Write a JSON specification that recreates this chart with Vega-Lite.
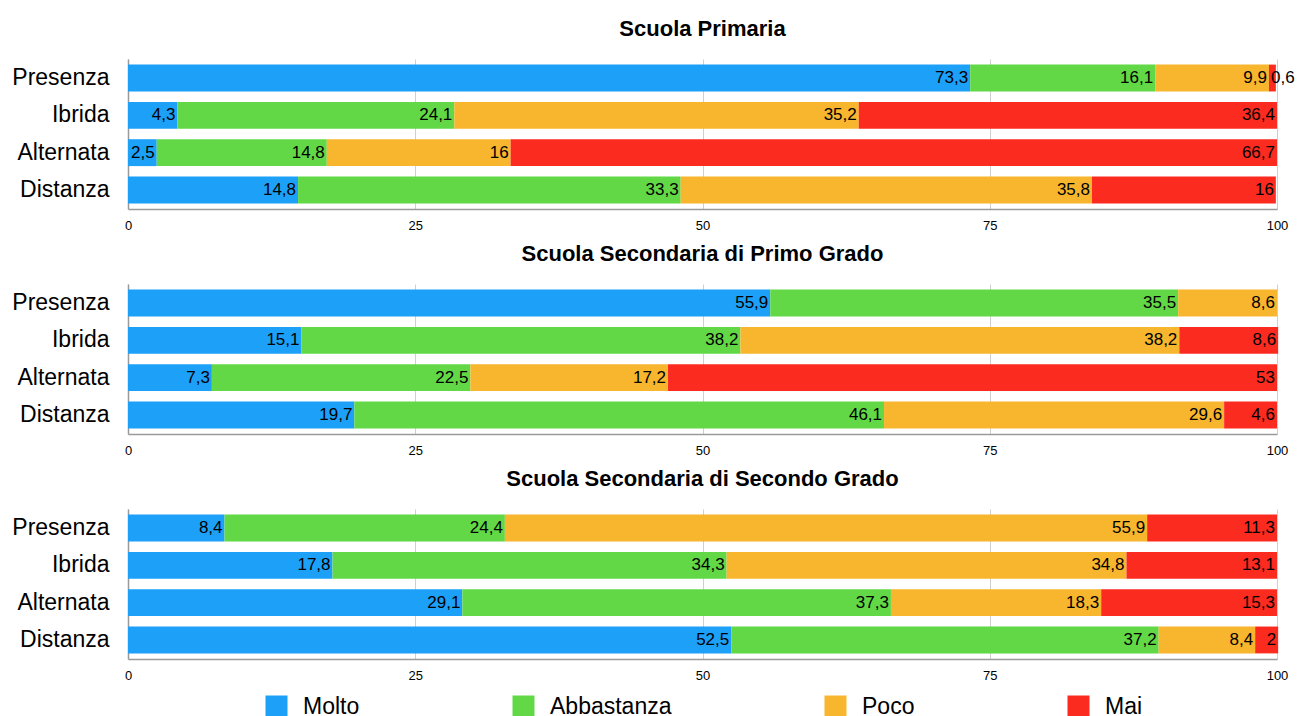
{
  "$schema": "https://vega.github.io/schema/vega-lite/v6.json",
  "padding": {"left": 11, "top": 18, "right": 2, "bottom": 0},
  "background": "white",
  "datasets": {
    "survey": [
      {"school": "Scuola Primaria", "mode": "Presenza", "cat": "Molto", "ord": 1, "value": 73.3},
      {"school": "Scuola Primaria", "mode": "Presenza", "cat": "Abbastanza", "ord": 2, "value": 16.1},
      {"school": "Scuola Primaria", "mode": "Presenza", "cat": "Poco", "ord": 3, "value": 9.9},
      {"school": "Scuola Primaria", "mode": "Presenza", "cat": "Mai", "ord": 4, "value": 0.6},
      {"school": "Scuola Primaria", "mode": "Ibrida", "cat": "Molto", "ord": 1, "value": 4.3},
      {"school": "Scuola Primaria", "mode": "Ibrida", "cat": "Abbastanza", "ord": 2, "value": 24.1},
      {"school": "Scuola Primaria", "mode": "Ibrida", "cat": "Poco", "ord": 3, "value": 35.2},
      {"school": "Scuola Primaria", "mode": "Ibrida", "cat": "Mai", "ord": 4, "value": 36.4},
      {"school": "Scuola Primaria", "mode": "Alternata", "cat": "Molto", "ord": 1, "value": 2.5},
      {"school": "Scuola Primaria", "mode": "Alternata", "cat": "Abbastanza", "ord": 2, "value": 14.8},
      {"school": "Scuola Primaria", "mode": "Alternata", "cat": "Poco", "ord": 3, "value": 16},
      {"school": "Scuola Primaria", "mode": "Alternata", "cat": "Mai", "ord": 4, "value": 66.7},
      {"school": "Scuola Primaria", "mode": "Distanza", "cat": "Molto", "ord": 1, "value": 14.8},
      {"school": "Scuola Primaria", "mode": "Distanza", "cat": "Abbastanza", "ord": 2, "value": 33.3},
      {"school": "Scuola Primaria", "mode": "Distanza", "cat": "Poco", "ord": 3, "value": 35.8},
      {"school": "Scuola Primaria", "mode": "Distanza", "cat": "Mai", "ord": 4, "value": 16},

      {"school": "Primo Grado", "mode": "Presenza", "cat": "Molto", "ord": 1, "value": 55.9},
      {"school": "Primo Grado", "mode": "Presenza", "cat": "Abbastanza", "ord": 2, "value": 35.5},
      {"school": "Primo Grado", "mode": "Presenza", "cat": "Poco", "ord": 3, "value": 8.6},
      {"school": "Primo Grado", "mode": "Ibrida", "cat": "Molto", "ord": 1, "value": 15.1},
      {"school": "Primo Grado", "mode": "Ibrida", "cat": "Abbastanza", "ord": 2, "value": 38.2},
      {"school": "Primo Grado", "mode": "Ibrida", "cat": "Poco", "ord": 3, "value": 38.2},
      {"school": "Primo Grado", "mode": "Ibrida", "cat": "Mai", "ord": 4, "value": 8.6},
      {"school": "Primo Grado", "mode": "Alternata", "cat": "Molto", "ord": 1, "value": 7.3},
      {"school": "Primo Grado", "mode": "Alternata", "cat": "Abbastanza", "ord": 2, "value": 22.5},
      {"school": "Primo Grado", "mode": "Alternata", "cat": "Poco", "ord": 3, "value": 17.2},
      {"school": "Primo Grado", "mode": "Alternata", "cat": "Mai", "ord": 4, "value": 53},
      {"school": "Primo Grado", "mode": "Distanza", "cat": "Molto", "ord": 1, "value": 19.7},
      {"school": "Primo Grado", "mode": "Distanza", "cat": "Abbastanza", "ord": 2, "value": 46.1},
      {"school": "Primo Grado", "mode": "Distanza", "cat": "Poco", "ord": 3, "value": 29.6},
      {"school": "Primo Grado", "mode": "Distanza", "cat": "Mai", "ord": 4, "value": 4.6},

      {"school": "Secondo Grado", "mode": "Presenza", "cat": "Molto", "ord": 1, "value": 8.4},
      {"school": "Secondo Grado", "mode": "Presenza", "cat": "Abbastanza", "ord": 2, "value": 24.4},
      {"school": "Secondo Grado", "mode": "Presenza", "cat": "Poco", "ord": 3, "value": 55.9},
      {"school": "Secondo Grado", "mode": "Presenza", "cat": "Mai", "ord": 4, "value": 11.3},
      {"school": "Secondo Grado", "mode": "Ibrida", "cat": "Molto", "ord": 1, "value": 17.8},
      {"school": "Secondo Grado", "mode": "Ibrida", "cat": "Abbastanza", "ord": 2, "value": 34.3},
      {"school": "Secondo Grado", "mode": "Ibrida", "cat": "Poco", "ord": 3, "value": 34.8},
      {"school": "Secondo Grado", "mode": "Ibrida", "cat": "Mai", "ord": 4, "value": 13.1},
      {"school": "Secondo Grado", "mode": "Alternata", "cat": "Molto", "ord": 1, "value": 29.1},
      {"school": "Secondo Grado", "mode": "Alternata", "cat": "Abbastanza", "ord": 2, "value": 37.3},
      {"school": "Secondo Grado", "mode": "Alternata", "cat": "Poco", "ord": 3, "value": 18.3},
      {"school": "Secondo Grado", "mode": "Alternata", "cat": "Mai", "ord": 4, "value": 15.3},
      {"school": "Secondo Grado", "mode": "Distanza", "cat": "Molto", "ord": 1, "value": 52.5},
      {"school": "Secondo Grado", "mode": "Distanza", "cat": "Abbastanza", "ord": 2, "value": 37.2},
      {"school": "Secondo Grado", "mode": "Distanza", "cat": "Poco", "ord": 3, "value": 8.4},
      {"school": "Secondo Grado", "mode": "Distanza", "cat": "Mai", "ord": 4, "value": 2}
    ]
  },
  "vconcat": [
    {
      "title": {"text": "Scuola Primaria"},
      "width": 1149,
      "height": 150,
      "data": {"name": "survey"},
      "transform": [
        {"filter": "datum.school === 'Scuola Primaria'"},
        {"stack": "value", "groupby": ["mode"], "sort": [{"field": "ord", "order": "ascending"}], "as": ["x0", "x1"]}
      ],
      "encoding": {
        "y": {"field": "mode", "type": "nominal", "sort": ["Presenza", "Ibrida", "Alternata", "Distanza"], "title": null}
      },
      "layer": [
        {
          "mark": {"type": "bar"},
          "encoding": {
            "x": {"field": "x0", "type": "quantitative", "scale": {"domain": [0, 100], "nice": false}, "axis": {"values": [0, 25, 50, 75, 100]}, "title": null},
            "x2": {"field": "x1"},
            "color": {"field": "cat", "type": "nominal", "scale": {"domain": ["Molto", "Abbastanza", "Poco", "Mai"], "range": ["#1ca0f8", "#62d846", "#f7b62d", "#fc2b20"]}, "title": null}
          }
        },
        {
          "transform": [{"filter": "datum.value >= 1"}],
          "mark": {"type": "text", "align": "right", "dx": -2},
          "encoding": {
            "x": {"field": "x1", "type": "quantitative"},
            "text": {"field": "value", "type": "quantitative", "format": ".1~f"}
          }
        },
        {
          "transform": [{"filter": "datum.value < 1"}],
          "mark": {"type": "text", "align": "left", "dx": 2},
          "encoding": {
            "x": {"field": "x0", "type": "quantitative"},
            "text": {"field": "value", "type": "quantitative", "format": ".1~f"}
          }
        }
      ]
    },
    {
      "title": {"text": "Scuola Secondaria di Primo Grado"},
      "width": 1149,
      "height": 150,
      "data": {"name": "survey"},
      "transform": [
        {"filter": "datum.school === 'Primo Grado'"},
        {"stack": "value", "groupby": ["mode"], "sort": [{"field": "ord", "order": "ascending"}], "as": ["x0", "x1"]}
      ],
      "encoding": {
        "y": {"field": "mode", "type": "nominal", "sort": ["Presenza", "Ibrida", "Alternata", "Distanza"], "title": null}
      },
      "layer": [
        {
          "mark": {"type": "bar"},
          "encoding": {
            "x": {"field": "x0", "type": "quantitative", "scale": {"domain": [0, 100], "nice": false}, "axis": {"values": [0, 25, 50, 75, 100]}, "title": null},
            "x2": {"field": "x1"},
            "color": {"field": "cat", "type": "nominal", "scale": {"domain": ["Molto", "Abbastanza", "Poco", "Mai"], "range": ["#1ca0f8", "#62d846", "#f7b62d", "#fc2b20"]}, "title": null}
          }
        },
        {
          "transform": [{"filter": "datum.value >= 1"}],
          "mark": {"type": "text", "align": "right", "dx": -2},
          "encoding": {
            "x": {"field": "x1", "type": "quantitative"},
            "text": {"field": "value", "type": "quantitative", "format": ".1~f"}
          }
        }
      ]
    },
    {
      "title": {"text": "Scuola Secondaria di Secondo Grado"},
      "width": 1149,
      "height": 150,
      "data": {"name": "survey"},
      "transform": [
        {"filter": "datum.school === 'Secondo Grado'"},
        {"stack": "value", "groupby": ["mode"], "sort": [{"field": "ord", "order": "ascending"}], "as": ["x0", "x1"]}
      ],
      "encoding": {
        "y": {"field": "mode", "type": "nominal", "sort": ["Presenza", "Ibrida", "Alternata", "Distanza"], "title": null}
      },
      "layer": [
        {
          "mark": {"type": "bar"},
          "encoding": {
            "x": {"field": "x0", "type": "quantitative", "scale": {"domain": [0, 100], "nice": false}, "axis": {"values": [0, 25, 50, 75, 100]}, "title": null},
            "x2": {"field": "x1"},
            "color": {"field": "cat", "type": "nominal", "scale": {"domain": ["Molto", "Abbastanza", "Poco", "Mai"], "range": ["#1ca0f8", "#62d846", "#f7b62d", "#fc2b20"]}, "title": null}
          }
        },
        {
          "transform": [{"filter": "datum.value >= 1"}],
          "mark": {"type": "text", "align": "right", "dx": -2},
          "encoding": {
            "x": {"field": "x1", "type": "quantitative"},
            "text": {"field": "value", "type": "quantitative", "format": ".1~f"}
          }
        }
      ]
    }
  ],
  "config": {
    "locale": {"number": {"decimal": ",", "thousands": ".", "grouping": [3], "currency": ["", " €"]}},
    "font": "Liberation Sans",
    "view": {"stroke": null},
    "concat": {"spacing": 11},
    "scale": {"bandPaddingInner": 0.28, "bandPaddingOuter": 0.15},
    "title": {"fontSize": 22, "fontWeight": "bold", "color": "#000000", "anchor": "middle", "frame": "group", "offset": 18, "font": "Liberation Sans"},
    "text": {"fontSize": 17, "color": "#000000", "baseline": "middle", "font": "Liberation Sans"},
    "axisY": {"labelFontSize": 23, "labelColor": "#000000", "labelPadding": 19, "ticks": false, "domainColor": "#9a9a9a", "domainWidth": 1.5, "grid": false, "labelFont": "Liberation Sans"},
    "axisX": {"labelFontSize": 13, "labelColor": "#000000", "labelPadding": 10, "ticks": false, "domainColor": "#9a9a9a", "domainWidth": 1.5, "grid": true, "gridColor": "#cfcfcf", "gridWidth": 1, "labelFont": "Liberation Sans", "labelFlush": false},
    "legend": {"orient": "none", "legendX": 137, "legendY": 636, "direction": "horizontal", "columns": 4, "columnPadding": 152, "gridAlign": "none", "symbolType": "square", "symbolSize": 484, "symbolStrokeWidth": 0, "symbolOpacity": 1, "labelFontSize": 23, "labelColor": "#000000", "labelOffset": 15, "labelFont": "Liberation Sans", "padding": 0}
  }
}
